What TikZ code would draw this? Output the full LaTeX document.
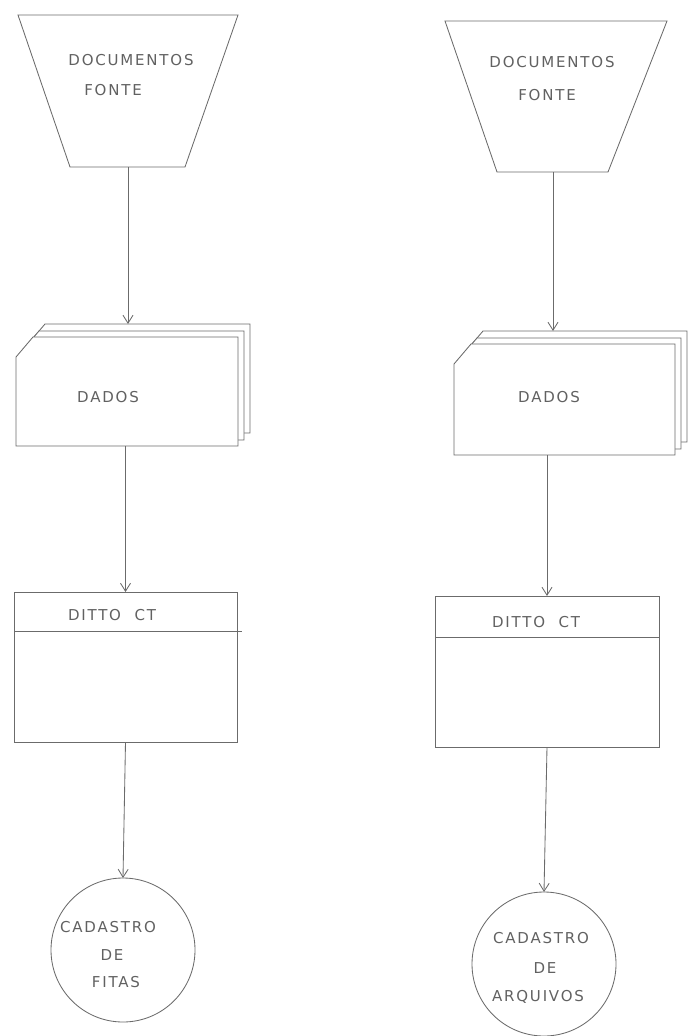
\documentclass[tikz,border=0pt]{standalone}
\usepackage{fontspec}
\newfontfamily\hand[LetterSpace=12]{DejaVu Sans}
\usetikzlibrary{arrows.meta,calc}
\newcommand\cardat[3]{%
  \filldraw[ln,fill=white]
    ($(#1.north west)+(17+#2,13+#3)$) --
    ($(#1.north east)+(-12+#2,13+#3)$) --
    ($(#1.south east)+(-12+#2,#3)$) --
    ($(#1.south west)+(#2,#3)$) --
    ($(#1.north west)+(#2,33+#3)$) -- cycle;}
\begin{document}
\begin{tikzpicture}[x=1pt,y=-1pt,
  ln/.style={draw=black!58,line width=0.85pt},
  lbl/.style={text=black!62,font=\hand\fontsize{15}{17}\selectfont,inner sep=0pt},
  conn/.style={ln,-{Straight Barb[length=8pt,width=10pt]}},
  area/.style 2 args={inner sep=0pt,outer sep=0pt,minimum width=#1,minimum height=#2},
  procbox/.style 2 args={ln,inner sep=0pt,outer sep=0pt,minimum width=#1,minimum height=#2},
  store/.style={ln,circle,inner sep=0pt,outer sep=0pt,minimum size=144pt}
]
\useasboundingbox (0,0) rectangle (690,1036);

% ---------- left column ----------
\node[area={220pt}{152pt}] (t1) at (128,91) {};
\draw[ln] (t1.north west) -- (t1.north east) -- ($(t1.south east)+(-53,0)$) -- ($(t1.south west)+(52,0)$) -- cycle;
\node[lbl] (t1a) at (131,60) {DOCUMENTOS};
\node[lbl] (t1b) at (113,90) {FONTE};

\node[area={234pt}{122pt}] (c1) at (133,385) {};
\cardat{c1}{12}{-13}
\cardat{c1}{6}{-6}
\cardat{c1}{0}{0}
\node[lbl] (c1a) at (108,397) {DADOS};

\node[procbox={223pt}{150pt}] (d1) at (125.5,667) {};
\coordinate (d1l) at ($(d1.north west)+(0,39)$);
\coordinate (d1r) at ($(d1.north east)+(5,39)$);
\draw[ln] (d1l) -- (d1r);
\node[lbl] (d1a) at (112,615) {DITTO\hspace{0.9em}CT};

\node[store] (e1) at (123,950) {};
\node[lbl] (e1a) at (108,927) {CADASTRO};
\node[lbl] (e1b) at (112,955) {DE};
\node[lbl] (e1c) at (116,982) {FITAS};

\draw[conn] (t1.south) -- (t1.south |- c1.north);
\draw[conn] (d1.north |- c1.south) -- (d1.north);
\draw[conn] (d1.south) -- (e1.north);

% ---------- right column ----------
\node[area={222pt}{151pt}] (t2) at (556,96.5) {};
\draw[ln] (t2.north west) -- (t2.north east) -- ($(t2.south east)+(-59,0)$) -- ($(t2.south west)+(52,0)$) -- cycle;
\node[lbl] (t2a) at (552,62) {DOCUMENTOS};
\node[lbl] (t2b) at (547,95) {FONTE};

\node[area={233pt}{124pt}] (c2) at (570.5,393) {};
\cardat{c2}{12}{-13}
\cardat{c2}{6}{-6}
\cardat{c2}{0}{0}
\node[lbl] (c2a) at (549,397) {DADOS};

\node[procbox={224pt}{151pt}] (d2) at (547,671.5) {};
\coordinate (d2l) at ($(d2.north west)+(0,41)$);
\coordinate (d2r) at ($(d2.north east)+(0,41)$);
\draw[ln] (d2l) -- (d2r);
\node[lbl] (d2a) at (536,622) {DITTO\hspace{0.9em}CT};

\node[store] (e2) at (544,964) {};
\node[lbl] (e2a) at (541,938) {CADASTRO};
\node[lbl] (e2b) at (545,968) {DE};
\node[lbl] (e2c) at (538,997) {ARQUIVOS};

\coordinate (t2o) at ($(t2.south)+(-3,0)$);
\draw[conn] (t2o) -- (t2o |- c2.north);
\draw[conn] (d2.north |- c2.south) -- (d2.north);
\draw[conn] (d2.south) -- (e2.north);
\end{tikzpicture}
\end{document}
